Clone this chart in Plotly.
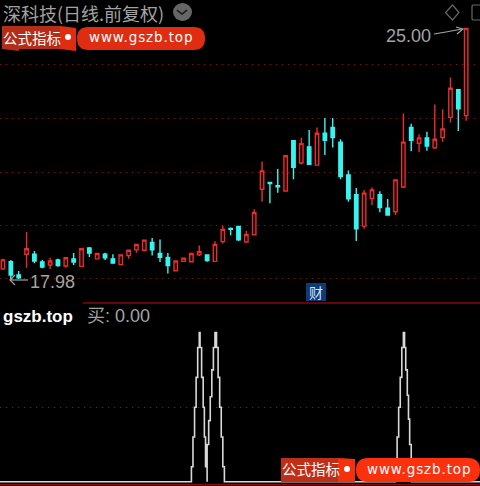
import plotly.graph_objects as go

# Daily candles: index, open, high, low, close
opens = [18.29,18.49,18.12,18.70,18.70,18.48,18.40,18.54,18.37,18.57,18.36,18.87,18.57,18.70,18.57,18.41,18.66,18.82,18.81,19.03,
         18.72,18.61,18.24,18.50,18.49,18.68,18.68,18.50,19.05,19.42,19.47,19.04,19.24,20.51,20.70,20.61,20.46,21.86,21.24,21.69,
         21.18,22.07,22.23,21.82,20.91,20.36,19.48,20.25,20.36,19.98,19.88,20.57,22.23,21.79,21.94,21.66,21.95,22.51,23.28,22.56]
highs = [18.57,18.54,18.23,19.32,18.79,18.54,18.60,18.57,18.62,18.73,18.86,18.90,18.72,18.74,18.70,18.68,18.82,18.97,19.09,19.15,
         19.11,18.73,18.51,18.59,18.72,18.94,18.69,19.06,19.49,19.44,19.49,19.35,19.95,21.28,20.71,21.07,21.44,21.87,21.94,22.16,
         22.23,22.49,22.49,21.90,21.03,20.54,20.49,20.56,20.45,20.24,20.77,22.62,22.33,22.04,22.11,22.87,22.74,23.62,23.29,25.00]
lows = [18.26,17.98,18.01,18.32,18.45,18.31,18.29,18.35,18.32,18.40,18.35,18.62,18.57,18.54,18.43,18.41,18.57,18.74,18.78,18.66,
        18.48,18.16,18.24,18.50,18.49,18.65,18.49,18.50,19.00,19.23,19.07,19.04,19.24,20.16,20.12,20.41,20.46,20.79,21.20,21.19,
        21.18,21.46,21.67,20.79,20.16,19.07,19.41,20.07,19.87,19.78,19.79,20.54,21.57,21.54,21.58,21.63,21.83,22.37,22.13,22.42]
closes = [18.54,18.12,18.04,18.85,18.51,18.34,18.51,18.38,18.60,18.48,18.85,18.73,18.72,18.60,18.45,18.68,18.81,18.97,19.09,18.82,
          18.61,18.38,18.51,18.59,18.72,18.77,18.52,18.97,19.39,19.39,19.10,19.25,19.86,21.02,20.67,20.58,21.44,21.12,21.78,21.20,
          22.07,21.87,21.95,20.86,20.24,19.41,20.40,20.49,20.00,19.79,20.77,21.82,21.87,21.94,21.71,21.90,22.19,23.32,22.75,24.99]
days = list(range(len(opens)))

# Lower pane indicator 买
buy_x = [-0.4,24.0,24.2,24.4,24.6,24.8,25.0,25.1,25.3,25.5,25.65,25.8,26.0,26.0,26.2,26.4,26.6,26.8,27.0,27.2,27.4,27.6,27.8,28.0,28.2,
         50.0,50.2,50.4,50.6,50.8,51.0,51.15,51.3,51.5,51.65,51.8,52.0,60.8]
buy_y = [0,10,30,50,70,90,100,90,70,50,30,10,0,25,41,57,75,90,100,90,70,50,30,10,0,
         10,30,50,70,90,100,90,75,58,42,25,0,0]

price_grid = [23.97,22.48,20.97,19.51,18.01]
buy_grid = [50]

W, H = 480, 486
def px(x): return x / W
def py(y): return 1 - y / H

GREY = "#a3a3a3"
RED = "#f02a2a"
CYAN = "#35f5f0"
DARK = "#8a0606"
CJK = "Noto Sans CJK SC"
LAT = "DejaVu Sans"
ARI = "Liberation Sans"

fig = go.Figure()
fig.add_trace(go.Candlestick(
    x=days, open=opens, high=highs, low=lows, close=closes,
    increasing=dict(line=dict(color=RED, width=1.4), fillcolor="#000000"),
    decreasing=dict(line=dict(color=CYAN, width=1.4), fillcolor=CYAN),
    whiskerwidth=0, xaxis="x", yaxis="y", showlegend=False))
fig.add_trace(go.Scatter(
    x=buy_x, y=buy_y, mode="lines", line=dict(color="#d8d8d8", width=1.6, shape="hv"),
    xaxis="x2", yaxis="y2", showlegend=False))

split = (H - 303) / H
fig.update_layout(
    width=W, height=H, margin=dict(l=0, r=0, t=0, b=0), autosize=False,
    paper_bgcolor="#000000", plot_bgcolor="#000000", boxgap=0.38,
    xaxis=dict(range=[-0.382, 60.76], visible=False, rangeslider=dict(visible=False), anchor="y"),
    xaxis2=dict(range=[-0.382, 60.76], visible=False, anchor="y2"),
    yaxis=dict(domain=[split, 1], range=[17.34, 25.78], tickvals=price_grid, showticklabels=False,
               showgrid=True, gridcolor="#a80808", griddash="1px,5px", gridwidth=1, zeroline=False, ticks=""),
    yaxis2=dict(domain=[0, split], range=[-2.89, 119.9], tickvals=buy_grid, showticklabels=False,
                showgrid=True, gridcolor="#a80808", griddash="1px,5px", gridwidth=1, zeroline=False, ticks=""),
)

shapes = []
def rect(x0, y0, x1, y1, fill, line=None, lw=0):
    shapes.append(dict(type="rect", xref="paper", yref="paper", x0=px(x0), x1=px(x1), y0=py(y0), y1=py(y1),
                       fillcolor=fill, line=dict(color=line or fill, width=lw)))
def seg(pts, color, lw, close=False, fill=None):
    d = "M " + " L ".join(f"{px(x):.5f},{py(y):.5f}" for x, y in pts) + (" Z" if close else "")
    shapes.append(dict(type="path", xref="paper", yref="paper", path=d,
                       line=dict(color=color, width=lw), fillcolor=fill or "rgba(0,0,0,0)"))
def pill(x0, y0, x1, y1, fill):
    r = (y1 - y0) / 2
    ym = (y0 + y1) / 2
    d = (f"M {px(x0+r):.5f},{py(y0):.5f} L {px(x1-r):.5f},{py(y0):.5f} "
         f"Q {px(x1):.5f},{py(y0):.5f} {px(x1):.5f},{py(ym):.5f} Q {px(x1):.5f},{py(y1):.5f} {px(x1-r):.5f},{py(y1):.5f} "
         f"L {px(x0+r):.5f},{py(y1):.5f} Q {px(x0):.5f},{py(y1):.5f} {px(x0):.5f},{py(ym):.5f} "
         f"Q {px(x0):.5f},{py(y0):.5f} {px(x0+r):.5f},{py(y0):.5f} Z")
    shapes.append(dict(type="path", xref="paper", yref="paper", path=d, fillcolor=fill, line=dict(width=0)))

# pane separators
seg([(83, 303), (480, 303)], DARK, 1.5)
seg([(0, 484.5), (480, 484.5)], DARK, 1.5)

# header icons
shapes.append(dict(type="circle", xref="paper", yref="paper", x0=px(173), x1=px(192), y0=py(21), y1=py(3),
                   fillcolor="#666666", line=dict(width=0)))
seg([(177, 10), (182, 14), (187, 10)], "#1a1a1a", 1.6)
seg([(452.5, 5), (459, 12.5), (452.5, 20), (445.5, 12.5)], "#666666", 1.2, close=True)
seg([(480, 5), (473, 5), (472, 6), (472, 19), (473, 20), (480, 20)], "#666666", 1.2)

# max / min arrows
seg([(434, 34), (446, 32), (462, 29)], GREY, 1.2)
seg([(456, 27), (463, 29), (457, 34)], GREY, 1.2)
seg([(28, 280), (10, 280)], GREY, 1.2)
seg([(15, 275), (10, 280), (15, 285)], GREY, 1.2)

# 财 badge
rect(306, 283, 326, 301, "#0e3a78")

# watermark badges
rect(2, 26, 60, 49, "#b32d18")
seg([(60, 26), (76, 28), (76, 51), (60, 49)], "#e02c10", 0, close=True, fill="#e02c10")
seg([(2, 48), (19, 48), (19, 51), (2, 49)], "#e02c10", 0, close=True, fill="#b32d18")
pill(77, 27, 205, 50, "#e02c10")
rect(281, 458, 338, 482, "#bf2f18")
seg([(338, 458), (355, 459), (355, 482), (338, 482)], "#f5300e", 0, close=True, fill="#f5300e")
pill(356, 458, 480, 482, "#fb300e")
fig.update_layout(shapes=shapes)

def note(x, y, text, size, color, fam, anchor="left", bold=False):
    t = f"<b>{text}</b>" if bold else text
    fig.add_annotation(xref="paper", yref="paper", x=px(x), y=py(y), text=t, showarrow=False,
                       xanchor=anchor, yanchor="middle", xshift=0, borderpad=0, align="left",
                       font=dict(size=size, color=color, family=fam))

spaced = '<span style="letter-spacing:0.88px">www.gszb.top</span>'
note(2, 13, "深科技(日线.前复权)", 18, GREY, CJK)
note(2, 37, "公式指标", 14.5, "#ffffff", CJK)
note(88, 37, spaced, 13.5, "#ffffff", LAT)
note(281, 468.5, "公式指标", 14.5, "#ffffff", CJK)
note(366, 469, spaced, 13.5, "#ffffff", LAT)
note(385, 36, "25.00", 18, GREY, ARI)
note(29, 282, "17.98", 18, GREY, ARI)
note(316, 292, "财", 14, "#d8e4f4", CJK, anchor="center")
note(2, 316, "gszb.top", 17, "#ffffff", ARI, bold=True)
note(86, 316, "买: 0.00", 18, GREY, f"{ARI}, {CJK}")

for cx, cy in [(68, 37), (347, 469)]:
    fig.add_shape(type="circle", xref="paper", yref="paper", x0=px(cx-3), x1=px(cx+3), y0=py(cy+3), y1=py(cy-3),
                  fillcolor="#ffffff", line=dict(width=0))

fig.write_html("out.html", config=dict(displayModeBar=False),
               post_script="document.body.style.margin='0';document.body.style.background='#000';")
